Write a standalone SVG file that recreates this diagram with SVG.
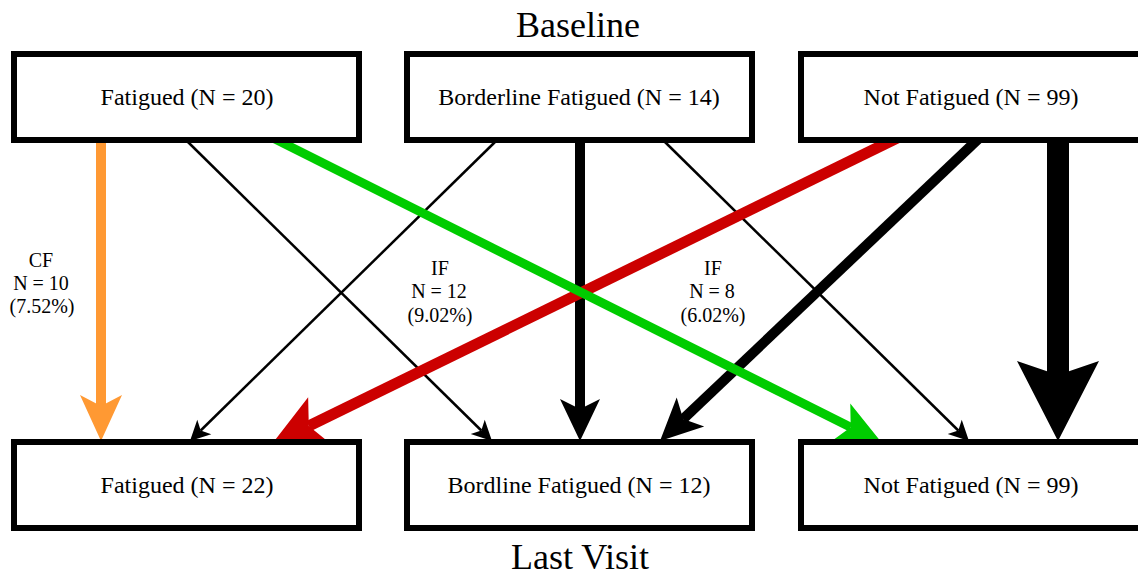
<svg xmlns="http://www.w3.org/2000/svg" width="1138" height="575" viewBox="0 0 1138 575">
<style>
.box{fill:#fff;stroke:#000;stroke-width:6}
.nt{font-family:"Liberation Serif","Times New Roman",serif;font-size:24px;text-anchor:middle;fill:#000}
.title{font-family:"Liberation Serif","Times New Roman",serif;font-size:36px;text-anchor:middle;fill:#000}
.lbl{font-family:"Liberation Serif","Times New Roman",serif;font-size:20px;text-anchor:middle;fill:#000}
.c{fill:none;stroke-linecap:butt}
</style>
<defs>
<marker id="m-thin" markerUnits="userSpaceOnUse" orient="auto" refX="0" refY="0" markerWidth="1" markerHeight="1" overflow="visible"><path d="M15,0 L-5,-10 L0,0 L-5,10 Z" fill="#000"/></marker>
<marker id="m-orange" markerUnits="userSpaceOnUse" orient="auto" refX="0" refY="0" markerWidth="1" markerHeight="1" overflow="visible"><path d="M35,0 L-11,-21 L0,0 L-11,21 Z" fill="#FF9933"/></marker>
<marker id="m-green" markerUnits="userSpaceOnUse" orient="auto" refX="0" refY="0" markerWidth="1" markerHeight="1" overflow="visible"><path d="M35,0 L-11,-21 L0,0 L-11,21 Z" fill="#00CC00"/></marker>
<marker id="m-med" markerUnits="userSpaceOnUse" orient="auto" refX="0" refY="0" markerWidth="1" markerHeight="1" overflow="visible"><path d="M32,0 L-10,-20 L0,0 L-10,20 Z" fill="#000"/></marker>
<marker id="m-red" markerUnits="userSpaceOnUse" orient="auto" refX="0" refY="0" markerWidth="1" markerHeight="1" overflow="visible"><path d="M41,0 L-12,-26 L0,0 L-12,26 Z" fill="#CC0000"/></marker>
<marker id="m-thick" markerUnits="userSpaceOnUse" orient="auto" refX="0" refY="0" markerWidth="1" markerHeight="1" overflow="visible"><path d="M66,0 L-14,-41 L0,0 L-14,41 Z" fill="#000"/></marker>
</defs>
<rect width="1138" height="575" fill="#fff"/>
<g id="connectors">
<line class="c" x1="101" y1="138" x2="101" y2="406" stroke="#FF9933" stroke-width="10" marker-end="url(#m-orange)"/>
<line class="c" x1="183.9" y1="138" x2="481.3" y2="430.5" stroke="#000" stroke-width="2.5" marker-end="url(#m-thin)"/>
<line class="c" x1="499.1" y1="138" x2="200.7" y2="430.5" stroke="#000" stroke-width="2.5" marker-end="url(#m-thin)"/>
<line class="c" x1="660.9" y1="138" x2="958.3" y2="430.5" stroke="#000" stroke-width="2.5" marker-end="url(#m-thin)"/>
<line class="c" x1="580" y1="138" x2="580" y2="409" stroke="#000" stroke-width="10" marker-end="url(#m-med)"/>
<line class="c" x1="979.3" y1="138" x2="683.2" y2="419" stroke="#000" stroke-width="10" marker-end="url(#m-med)"/>
<line class="c" x1="897.2" y1="138" x2="308.8" y2="426" stroke="#CC0000" stroke-width="11" marker-end="url(#m-red)"/>
<line class="c" x1="273" y1="138" x2="850.7" y2="427.3" stroke="#00CC00" stroke-width="9" marker-end="url(#m-green)"/>
<line class="c" x1="1058" y1="138" x2="1058" y2="375" stroke="#000" stroke-width="22" marker-end="url(#m-thick)"/>
<g id="label-cf"><text class="lbl" x="41" y="267">CF</text><text class="lbl" x="41" y="290">N = 10</text><text class="lbl" x="42" y="313">(7.52%)</text></g>
<g id="label-if1"><text class="lbl" x="440" y="275">IF</text><text class="lbl" x="439" y="298">N = 12</text><text class="lbl" x="440" y="322">(9.02%)</text></g>
<g id="label-if2"><text class="lbl" x="713" y="275">IF</text><text class="lbl" x="712" y="298">N = 8</text><text class="lbl" x="713" y="322">(6.02%)</text></g>
</g>
<g id="base-fatigued"><rect class="box" x="14" y="54" width="345" height="86"/><text class="nt" x="187" y="105">Fatigued (N = 20)</text></g>
<g id="base-borderline"><rect class="box" x="407" y="54" width="345" height="86"/><text class="nt" x="579" y="105">Borderline Fatigued (N = 14)</text></g>
<g id="base-not"><rect class="box" x="801" y="54" width="345" height="86"/><text class="nt" x="971" y="105">Not Fatigued (N = 99)</text></g>
<g id="last-fatigued"><rect class="box" x="14" y="442" width="345" height="86"/><text class="nt" x="187" y="493">Fatigued (N = 22)</text></g>
<g id="last-borderline"><rect class="box" x="407" y="442" width="345" height="86"/><text class="nt" x="579" y="493">Bordline Fatigued (N = 12)</text></g>
<g id="last-not"><rect class="box" x="801" y="442" width="345" height="86"/><text class="nt" x="971" y="493">Not Fatigued (N = 99)</text></g>
<text class="title" x="578" y="37">Baseline</text>
<text class="title" x="580" y="569">Last Visit</text>
</svg>
